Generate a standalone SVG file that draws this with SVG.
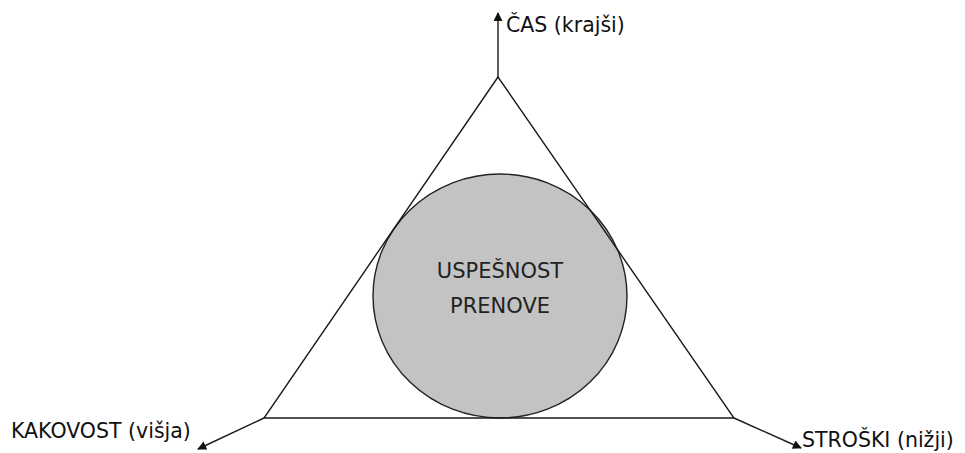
<svg xmlns="http://www.w3.org/2000/svg" width="965" height="453" viewBox="0 0 965 453">
<defs>
<style>
.ln{stroke:#1a1a1a;stroke-width:1.4;fill:none}
.lbl{font-family:"DejaVu Sans",Verdana,sans-serif;font-size:20.5px;fill:#111}
.ctr{font-family:"DejaVu Sans",Verdana,sans-serif;font-size:21px;fill:#222;text-anchor:middle}
</style>
<marker id="ah" viewBox="0 0 10 10" refX="9" refY="5" markerWidth="10" markerHeight="9" markerUnits="userSpaceOnUse" orient="auto">
<path d="M0,0 L10,5 L0,10 z" fill="#111"/>
</marker>
</defs>
<rect width="965" height="453" fill="#fff"/>
<g id="success">
<ellipse cx="500" cy="296" rx="127" ry="122" fill="#c3c3c3" stroke="#222" stroke-width="1.4"/>
<text class="ctr" x="500" y="278">USPEŠNOST</text>
<text class="ctr" x="500" y="313">PRENOVE</text>
</g>
<g id="triangle">
<polygon class="ln" points="498,77 264,418 734,418"/>
</g>
<g id="connectors">
<line class="ln" x1="498" y1="77" x2="498" y2="13" marker-end="url(#ah)"/>
<line class="ln" x1="264" y1="418" x2="198" y2="449" marker-end="url(#ah)"/>
<line class="ln" x1="734" y1="418" x2="801" y2="448" marker-end="url(#ah)"/>
</g>
<g id="cas"><text class="lbl" x="506" y="32">ČAS (krajši)</text></g>
<g id="kakovost"><text class="lbl" x="11" y="438">KAKOVOST (višja)</text></g>
<g id="stroski"><text class="lbl" x="802" y="447" font-size="20">STROŠKI (nižji)</text></g>
</svg>
